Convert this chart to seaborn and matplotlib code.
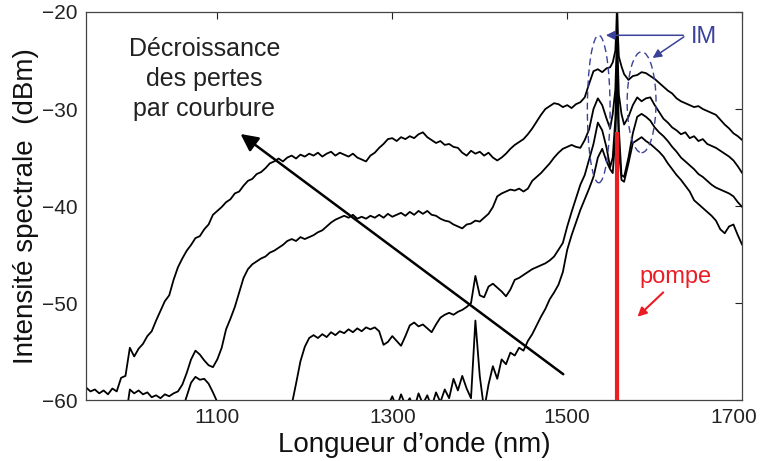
import numpy as np
import pandas as pd
import matplotlib
matplotlib.use("Agg")
import matplotlib.pyplot as plt
from matplotlib.patches import Ellipse
from matplotlib.transforms import ScaledTranslation
import seaborn as sns

# Grille de longueurs d'onde (nm), plus fine autour de la pompe
wl = list(range(950, 1550, 5)) + [1549, 1552, 1555, 1556, 1557, 1558, 1559, 1562] + list(range(1565, 1705, 5))

# Spectres (dBm), du plus haut au plus bas
spectre_1 = [
    -58.7, -59.1, -58.9, -59.3, -59.0, -59.4, -58.8, -59.1, -57.7, -57.5,
    -54.6, -55.5, -54.7, -54.2, -53.4, -52.9, -51.8, -50.8, -49.8, -49.2,
    -47.6, -46.3, -45.4, -44.6, -44.0, -43.3, -43.1, -42.4, -41.9, -40.9,
    -40.5, -40.1, -39.6, -39.3, -38.7, -38.5, -37.9, -37.4, -37.2, -36.7,
    -36.5, -36.1, -35.6, -35.4, -35.1, -35.4, -35.0, -34.8, -35.1, -34.7,
    -34.9, -34.6, -34.8, -34.5, -34.9, -34.6, -34.4, -34.8, -34.5, -34.7,
    -34.9, -34.6, -35.0, -35.2, -35.4, -34.8, -34.5, -34.0, -33.6, -33.1,
    -33.0, -33.3, -32.9, -33.1, -32.8, -33.0, -32.6, -32.4, -32.9, -33.2,
    -33.5, -33.3, -33.7, -33.6, -33.9, -34.0, -34.5, -34.8, -34.3, -34.6,
    -34.4, -34.8, -34.5, -35.0, -35.3, -35.0, -34.6, -34.1, -33.7, -33.4,
    -33.1, -32.6, -32.0, -31.3, -30.6, -30.0, -29.7, -29.4, -29.5, -29.8,
    -29.6, -29.9, -29.5, -29.3, -28.8, -27.4, -26.1, -25.9, -26.2, -25.8,
    -25.7, -25.2, -24.0, -22.0, -19.0, -22.5, -24.6, -25.6,
    -26.4, -27.0, -26.6, -26.5, -26.2, -26.3, -26.6, -26.9, -27.3, -27.7,
    -28.1, -28.4, -28.9, -29.2, -29.4, -29.6, -29.8, -29.7, -30.0, -30.2,
    -30.4, -30.6, -31.1, -31.6, -32.0, -32.5, -32.8, -33.2,
]

spectre_2 = [-62.0] * 10 + [
    -58.9, -59.3, -59.0, -59.4, -59.2, -59.7, -59.5, -59.8, -59.4, -59.6,
    -59.3, -59.1, -58.4, -57.2, -55.8, -54.9, -55.3, -55.9, -56.4, -56.6,
    -55.8, -54.6, -52.7, -51.6, -50.4, -48.9, -47.4, -46.5, -46.0, -45.7,
    -45.4, -45.2, -44.8, -44.6, -44.3, -44.0, -43.6, -43.4, -43.6, -43.2,
    -43.4, -43.2, -43.0, -42.7, -42.5, -42.1, -41.7, -41.4, -41.2, -41.0,
    -41.2, -40.9, -41.3, -41.1, -41.3, -41.0, -41.2, -40.9, -41.2, -40.8,
    -41.1, -40.9, -40.7, -41.0, -40.6, -40.9, -40.5, -40.8, -40.5, -40.9,
    -41.0, -41.3, -41.5, -41.6, -41.9, -42.1, -42.3, -41.9, -41.8, -41.5,
    -41.6, -41.2, -40.8, -40.1, -39.0, -38.7, -38.5, -38.3, -38.4, -38.2,
    -38.5, -38.2, -37.4, -37.0, -36.6, -36.1, -35.6, -35.0, -34.5, -34.1,
    -33.9, -33.7, -33.9, -34.0, -33.2, -32.1, -30.0, -28.9, -29.6, -31.0,
    -32.0, -30.5, -28.0, -25.0, -22.5, -25.5, -28.5, -30.5,
    -31.6, -30.8, -29.6, -28.8, -29.2, -28.9, -28.8, -29.6, -30.3, -31.0,
    -31.4, -31.9, -32.2, -32.6, -32.4, -33.0, -32.8, -33.3, -33.1, -33.6,
    -33.8, -34.0, -34.3, -34.6, -34.9, -35.3, -35.9, -36.6,
]

spectre_3 = [-62.0] * 22 + [
    -61.0, -59.6, -58.2, -57.6, -57.9, -57.8, -58.3, -59.2, -60.2, -61.5,
] + [-62.0] * 15 + [
    -60.5, -58.3, -56.0, -54.5, -53.6, -53.3, -53.6, -53.2, -53.5, -53.0,
    -53.3, -52.9, -53.1, -52.7, -53.0, -52.6, -52.9, -52.5, -52.7, -52.5,
    -52.9, -54.3, -54.0, -53.4, -53.9, -54.4, -53.4, -52.3, -52.0, -52.4,
    -52.2, -52.6, -53.0, -52.2, -51.5, -51.2, -51.0, -51.2, -50.9, -50.7,
    -50.4, -50.0, -47.2, -49.2, -49.4, -48.3, -48.0, -48.4, -48.8, -49.3,
    -48.6, -47.6, -47.4, -47.1, -46.8, -46.5, -46.3, -46.1, -45.9, -45.6,
    -45.2, -44.5, -43.8, -42.1, -40.6, -39.2, -37.8, -36.8, -35.2, -33.6,
    -31.4, -32.2, -34.0,
    -36.0, -35.0, -31.0, -28.0, -24.5, -28.5, -32.0, -36.8,
    -37.0, -35.0, -32.5, -30.8, -30.5, -30.8, -31.2, -31.9, -32.4, -32.8,
    -33.3, -33.9, -34.4, -35.0, -35.4, -35.8, -36.2, -36.7, -37.0, -37.4,
    -37.8, -38.1, -38.3, -38.5, -38.7, -39.0, -39.6, -40.1,
]

spectre_4 = [-62.0] * 69 + [
    -60.6, -59.6, -60.8, -59.4, -60.5, -59.8, -60.9, -59.3, -60.4, -59.5,
    -60.7, -59.2, -60.2, -58.9, -59.8, -57.8, -59.0, -57.5, -58.8, -59.8,
    -51.8, -57.5, -61.0, -58.4, -56.5, -57.8, -55.8, -56.3, -55.1, -55.4,
    -54.6, -54.9, -53.9, -53.2, -52.3, -51.4, -50.6, -49.6, -48.9, -48.1,
    -46.8, -44.5, -43.0, -41.7, -40.4, -39.3, -38.2, -37.0, -35.0, -34.1,
    -35.4,
    -36.2, -36.6, -33.0, -30.0, -27.0, -30.5, -34.0, -37.3,
    -37.5, -35.6, -33.5, -33.2, -32.9, -33.3, -33.6, -34.0, -34.4, -34.9,
    -35.6, -36.2, -36.8, -37.3, -37.9, -38.5, -39.4, -39.8, -40.2, -40.6,
    -41.0, -41.5, -42.4, -42.8, -42.1, -41.9, -43.0, -44.0,
]

spectres = [spectre_1, spectre_2, spectre_3, spectre_4]

# Pompe
pompe_nm = 1557
pompe_bas = -60
pompe_haut = -32.4

xticks = [1100, 1300, 1500, 1700]
yticks = [-60, -50, -40, -30, -20]

rouge = "#ec1c24"
bleu = "#3b429a"

sns.set_style("white")
plt.rcParams['font.family'] = ['Liberation Sans', 'DejaVu Sans']

fig, ax = plt.subplots(figsize=(7.62, 4.61), dpi=100)
fig.subplots_adjust(left=0.113, right=0.974, top=0.974, bottom=0.132)

for s in spectres:
    sns.lineplot(x=wl, y=s, ax=ax, color='black', linewidth=1.3)

ax.plot([pompe_nm, pompe_nm], [pompe_bas, pompe_haut], color=rouge, lw=3, zorder=5,
        solid_capstyle='butt')

# Ellipses IM
ax.add_patch(Ellipse((1536, -30.0), 26, 15.2, fill=False, ec=bleu, lw=1,
                     ls=(0, (5, 3)), zorder=6))
ax.add_patch(Ellipse((1585, -29.3), 33, 10.4, fill=False, ec=bleu, lw=1,
                     ls=(0, (5, 3)), zorder=6))
ax.annotate('', xy=(1541, -22.4), xytext=(1636, -22.4),
            arrowprops=dict(arrowstyle='-|>', color=bleu, lw=1.1, mutation_scale=13))
ax.annotate('', xy=(1595, -24.9), xytext=(1636, -22.4),
            arrowprops=dict(arrowstyle='-|>', color=bleu, lw=1.1, mutation_scale=13))
ax.text(1641, -22.6, 'IM', color=bleu, fontsize=17, ha='left', va='center')

# Flèche noire
ax.annotate('', xy=(1124, -32.4), xytext=(1498, -57.5),
            arrowprops=dict(arrowstyle='-|>', color='black', lw=1.8, mutation_scale=26))
ax.text(1085, -26.9, 'Décroissance\ndes pertes\npar courbure', fontsize=18,
        ha='center', va='center', multialignment='center', color='#222222',
        linespacing=1.3)

# Pompe
ax.text(1624, -47.9, 'pompe', color=rouge, fontsize=17, ha='center', va='baseline')
ax.annotate('', xy=(1578, -51.6), xytext=(1612, -48.7),
            arrowprops=dict(arrowstyle='-|>', color=rouge, lw=1.5, mutation_scale=13))

ax.set_xlim(950, 1700)
ax.set_ylim(-60, -20)
ax.set_xticks(xticks)
ax.set_yticks(yticks)
ax.set_yticklabels(['\u221260', '\u221250', '\u221240', '\u221230', '\u221220'])
ax.tick_params(direction='in', top=True, right=True, length=5, width=0.8,
               labelsize=15, colors='#222222', pad=6)
# le dernier libellé est décalé vers la gauche comme sur l'original
lab = ax.get_xticklabels()[-1]
lab.set_transform(lab.get_transform() + ScaledTranslation(-6 / 72, 0, fig.dpi_scale_trans))
for sp in ax.spines.values():
    sp.set_color('#444444')
    sp.set_linewidth(0.9)

ax.set_xlabel('Longueur d\u2019onde (nm)', fontsize=20, labelpad=3, color='#111111')
ax.set_ylabel('Intensité spectrale  (dBm)', fontsize=20, labelpad=2, color='#111111')

fig.savefig('out.png', dpi=100)
